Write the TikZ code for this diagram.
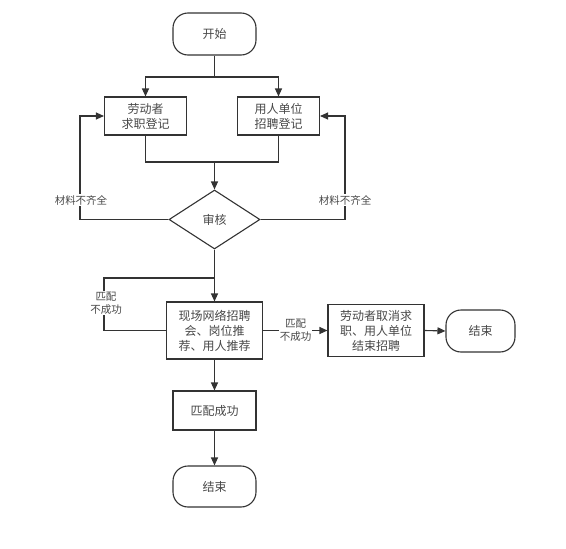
\documentclass[tikz,border=0pt]{standalone}
\definecolor{lineGray}{RGB}{51,51,51}
\definecolor{textGray}{RGB}{72,72,72}
\usepackage{fontspec}
\setmainfont{Noto Sans CJK SC}
\usepackage{tikz}
\usetikzlibrary{arrows.meta,positioning,shapes.geometric}

\begin{document}
\begin{tikzpicture}[x=1pt, y=-1pt,
  every node/.style={font=\fontsize{12}{15}\selectfont, text=textGray},
  box/.style={draw=lineGray, line width=1.1pt, fill=white, align=center, inner sep=0pt},
  terminal/.style={box, rounded corners=15pt},
  check/.style={box, diamond, aspect=1.5},
  note/.style={fill=white, inner sep=1pt, align=center, font=\fontsize{10.5}{13}\selectfont},
  line/.style={draw=lineGray, line width=1.1pt},
  arr/.style={line, -{Triangle[length=8pt,width=7pt]}}]
  \useasboundingbox (0,0) rectangle (566,549);
  % registration
  \node[terminal, minimum width=83pt, minimum height=42pt] (start) at (214.5,34) {开始};
  \node[box, minimum width=82pt, minimum height=38pt] (worker) at (145.5,116) {劳动者\\求职登记};
  \node[box, minimum width=82pt, minimum height=38pt] (employer) at (278.5,116) {用人单位\\招聘登记};
  \node[check, minimum width=91pt, minimum height=59pt] (audit) at (214.5,219.5) {审核};
  % matching
  \node[box, minimum width=96pt, minimum height=57pt] (fair) at (214.5,330.5) {现场网络招聘\\会、岗位推\\荐、用人推荐};
  \node[box, minimum width=96pt, minimum height=52pt] (quit) at (376,330.5) {劳动者取消求\\职、用人单位\\结束招聘};
  \node[terminal, minimum width=69pt, minimum height=42pt] (endA) at (480.5,331) {结束};
  \node[box, minimum width=83pt, minimum height=39pt] (match) at (214.5,410.5) {匹配成功};
  \node[terminal, minimum width=83pt, minimum height=41pt] (endB) at (214.5,486.5) {结束};
  % helper points
  \coordinate (split) at (214.5,77);
  \coordinate (join) at (214.5,162);
  \coordinate (lfold) at (80,219.5);
  \coordinate (rfold) at (345,219.5);
  \coordinate (merge) at (214.5,278);
  \coordinate (mfold) at (104,278);
  % connectors
  \draw[line] (start.south) -- (split);
  \draw[arr] (split) -| (worker.north);
  \draw[arr] (split) -| (employer.north);
  \draw[line] (worker.south) |- (join) -| (employer.south);
  \draw[arr] (join) -- (audit.north);
  \draw[line] (audit.west) -- (lfold);
  \draw[arr] (lfold) |- (worker.west);
  \draw[line] (audit.east) -- (rfold);
  \draw[arr] (rfold) |- (employer.east);
  \draw[line] (audit.south) -- (merge);
  \draw[line] (fair.west) -| (mfold) -- (merge);
  \draw[arr] (merge) -- (fair.north);
  \draw[arr] (fair.east) -- (quit.west);
  \draw[arr] (quit.east) -- (endA.west);
  \draw[arr] (fair.south) -- (match.north);
  \draw[arr] (match.south) -- (endB.north);
  % labels
  \node[note] (lackL) at (81,200) {材料不齐全};
  \node[note] (lackR) at (345,200) {材料不齐全};
  \node[note] (failL) at (106,303) {匹配\\不成功};
  \node[note] (failR) at (295.5,330.5) {匹配\\不成功};
\end{tikzpicture}
\end{document}
